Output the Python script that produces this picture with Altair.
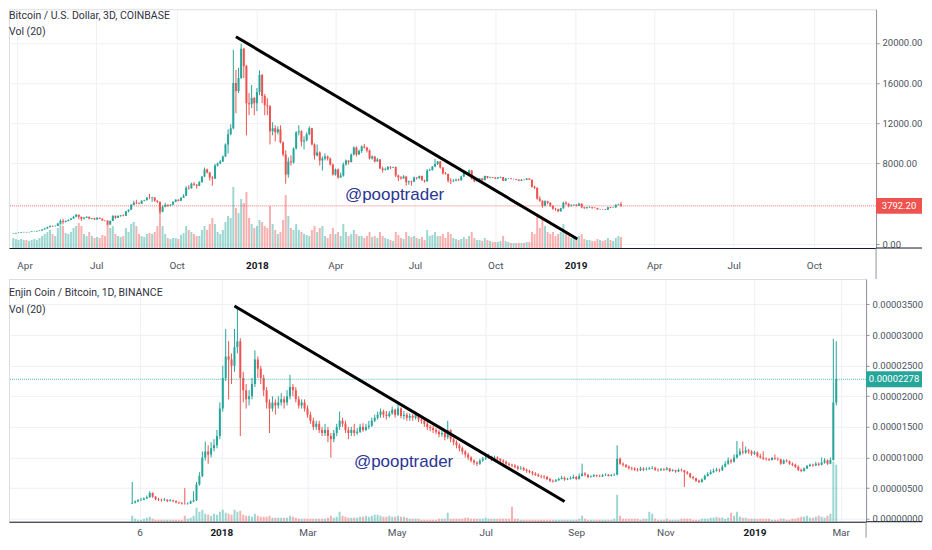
import altair as alt
import pandas as pd

# ---------------- Bitcoin / U.S. Dollar, 3D, COINBASE ----------------
btc_first_bar = "2017-03-28"
btc_bar_days = 3
btc_first_open = 1020
btc_close = [
    1040, 1100, 1130, 1180, 1200, 1180, 1200, 1240, 1250, 1300,
    1350, 1450, 1550, 1700, 1800, 1770, 1800, 2050, 2300, 2200,
    2300, 2400, 2530, 2700, 2900, 2700, 2500, 2600, 2700, 2500,
    2550, 2450, 2600, 2500, 2350, 2330, 1950, 2300, 2800, 2600,
    2800, 2850, 2800, 3250, 3400, 3900, 4100, 4050, 4000, 4300,
    4350, 4600, 4580, 4620, 4300, 4200, 3200, 3700, 3900, 3800,
    3900, 4200, 4400, 4300, 4600, 4800, 5600, 5550, 6000, 5900,
    5800, 6150, 6700, 7400, 7100, 6600, 6500, 7800, 8000, 8200,
    8700, 9900, 10900, 11500, 16000, 15200, 16500, 19400, 17700, 14000,
    13900, 14500, 14000, 15100, 16800, 14700, 13800, 13700, 11200, 11500,
    11100, 11400, 10100, 8900, 6900, 8200, 8100, 9500, 11100, 11200,
    10200, 10300, 10900, 11500, 9900, 8800, 9100, 8300, 8500, 8700,
    8500, 7900, 6900, 7400, 6600, 6800, 7900, 8300, 8150, 8900,
    9600, 8900, 9250, 9700, 9600, 9300, 8500, 8700, 8200, 8400,
    7500, 7350, 7400, 7650, 7600, 7650, 6800, 6600, 6500, 6700,
    6150, 6250, 6200, 6600, 6550, 6750, 6350, 6250, 7300, 7350,
    7700, 7950, 8200, 7600, 7000, 6950, 6300, 6250, 6300, 6400,
    6350, 6700, 7050, 7000, 7300, 6500, 6250, 6300, 6500, 6350,
    6750, 6600, 6650, 6600, 6500, 6600, 6650, 6300, 6500, 6520,
    6450, 6460, 6400, 6300, 6400, 6380, 6500, 6400, 5700, 5600,
    4500, 4300, 3800, 4250, 4100, 3800, 3500, 3450, 3250, 3550,
    4100, 4000, 3800, 3850, 3900, 3800, 4000, 3650, 3550, 3650,
    3680, 3600, 3580, 3450, 3460, 3450, 3400, 3650, 3600, 3620,
    3900, 3950, 3792.2,
]
btc_high = [
    1060, 1110, 1150, 1200, 1220, 1210, 1220, 1260, 1280, 1320,
    1360, 1470, 1580, 1720, 1850, 1840, 1860, 2100, 2450, 2480,
    2350, 2450, 2560, 2800, 2980, 2920, 2720, 2700, 2760, 2720,
    2600, 2600, 2650, 2620, 2550, 2400, 2340, 2350, 2850, 2820,
    2820, 2900, 2950, 3280, 3450, 3950, 4300, 4400, 4150, 4350,
    4400, 4700, 4980, 4700, 4650, 4350, 4200, 3850, 4100, 3950,
    3950, 4250, 4450, 4450, 4650, 4950, 5750, 5850, 6100, 6150,
    5950, 6250, 6750, 7600, 7500, 7150, 6750, 7950, 8100, 8350,
    8800, 10000, 11400, 11900, 19300, 17300, 17500, 19900, 19500, 17800,
    15000, 15800, 14600, 15500, 17250, 16900, 14900, 14500, 13800, 12100,
    11800, 11700, 11800, 10200, 9300, 8600, 8800, 9600, 11200, 11800,
    11300, 10700, 11100, 11700, 11550, 10000, 9900, 9200, 8700, 9000,
    8800, 8600, 8000, 7500, 7500, 7100, 8100, 8400, 8300, 9000,
    9700, 9700, 9400, 9800, 9950, 9650, 9400, 8800, 8750, 8550,
    8450, 7700, 7600, 7750, 7750, 7700, 7700, 6900, 6750, 6850,
    6750, 6300, 6300, 6700, 6650, 6800, 6800, 6400, 7450, 7500,
    7750, 8450, 8250, 8250, 7650, 7150, 7000, 6550, 6450, 6500,
    6500, 6800, 7100, 7100, 7400, 7350, 6550, 6400, 6550, 6550,
    6800, 6750, 6700, 6650, 6650, 6650, 6700, 6650, 6550, 6560,
    6550, 6500, 6480, 6420, 6450, 6450, 6550, 6510, 6420, 5800,
    5620, 4750, 4350, 4350, 4300, 4150, 3850, 3600, 3500, 3600,
    4200, 4250, 4050, 3950, 3950, 3950, 4100, 4050, 3700, 3700,
    3750, 3700, 3650, 3600, 3500, 3490, 3470, 3700, 3680, 3660,
    3950, 4000, 4200,
]
btc_low = [
    1000, 1030, 1080, 1120, 1160, 1150, 1170, 1190, 1220, 1240,
    1290, 1340, 1440, 1540, 1650, 1700, 1750, 1790, 2030, 1950,
    2150, 2250, 2380, 2500, 2650, 2450, 2300, 2450, 2580, 2450,
    2450, 2400, 2420, 2480, 2320, 2250, 1850, 1900, 2280, 2500,
    2580, 2700, 2750, 2780, 3150, 3380, 3850, 3950, 3950, 3980,
    4250, 4330, 4450, 4200, 4200, 4050, 3000, 3150, 3650, 3700,
    3750, 3880, 4150, 4250, 4280, 4580, 4780, 5400, 5500, 5800,
    5500, 5750, 6100, 6650, 7000, 6300, 5800, 6450, 7700, 7950,
    8150, 8650, 9000, 10800, 11400, 13000, 15000, 16400, 16500, 10800,
    12800, 13500, 12800, 13200, 14800, 14000, 12800, 12800, 9900, 10800,
    10200, 10900, 10000, 8700, 6000, 6600, 7800, 8000, 9400, 10800,
    9700, 9400, 10200, 10800, 9800, 8400, 8700, 7800, 7300, 8300,
    8300, 7800, 6800, 6800, 6500, 6600, 6700, 7800, 7900, 8100,
    8800, 8700, 8850, 9050, 9500, 9100, 8400, 8400, 8100, 8200,
    7450, 7100, 7300, 7350, 7450, 7550, 6650, 6250, 6400, 6500,
    5800, 5900, 5800, 6150, 6400, 6450, 6300, 6100, 6200, 7250,
    7300, 7650, 7850, 7500, 6900, 6900, 6100, 5950, 6150, 6250,
    6250, 6300, 6650, 6900, 6950, 6400, 6150, 6200, 6250, 6300,
    6350, 6500, 6550, 6550, 6450, 6480, 6550, 6250, 6280, 6450,
    6420, 6420, 6370, 6250, 6290, 6330, 6360, 6370, 5600, 5450,
    4400, 4200, 3600, 3750, 3950, 3700, 3400, 3300, 3150, 3200,
    3500, 3900, 3650, 3700, 3800, 3750, 3780, 3550, 3500, 3530,
    3600, 3500, 3550, 3400, 3400, 3410, 3380, 3390, 3560, 3580,
    3610, 3850, 3700,
]
btc_volume = [
    10, 9, 8, 9, 8, 8, 7, 8, 9, 8, 10,
    12, 14, 16, 18, 14, 12, 20, 25, 22, 15,
    14, 16, 20, 22, 25, 22, 14, 12, 16, 12,
    10, 11, 10, 13, 12, 24, 20, 22, 14, 12, 11,
    12, 20, 16, 24, 26, 22, 14, 12, 11, 14,
    15, 14, 16, 22, 36, 22, 14, 10, 9, 10,
    10, 9, 13, 15, 22, 18, 16, 14, 12, 12,
    18, 22, 18, 24, 30, 24, 16, 14, 18, 26,
    32, 30, 61, 40, 35, 49, 45, 56, 30, 24, 20,
    22, 28, 26, 22, 20, 42, 24, 18, 14, 16,
    28, 53, 32, 20, 18, 24, 18, 16, 14,
    13, 12, 18, 22, 16, 20, 22, 12, 10, 14, 20,
    14, 16, 12, 24, 16, 12, 14, 18, 14, 12,
    12, 10, 12, 16, 11, 12, 10, 16, 12, 10,
    9, 8, 7, 16, 13, 10, 9, 16, 12, 11,
    12, 10, 9, 11, 8, 18, 12, 13, 16, 12,
    12, 14, 10, 16, 14, 10, 9, 8, 9, 11, 9,
    12, 16, 10, 8, 8, 7, 10, 8, 7, 6,
    6, 6, 7, 12, 7, 6, 5, 5, 5, 5,
    5, 5, 6, 6, 16, 14, 32, 20, 30, 22,
    16, 14, 16, 12, 14, 16, 24, 16, 12, 10,
    10, 9, 12, 14, 9, 8, 8, 7, 7, 9,
    8, 7, 8, 10, 8, 7, 10, 12, 11,
]
btc_trend_dates = ["2017-12-08", "2019-01-03"]
btc_trend_prices = [20600, 500]
btc_last_price = 3792.20
btc_last_label = "3792.20"
btc_tick_dates = ["2017-04-01", "2017-07-01", "2017-10-01", "2018-01-01", "2018-04-01",
                  "2018-07-01", "2018-10-01", "2019-01-01", "2019-04-01", "2019-07-01",
                  "2019-10-01"]
btc_price_ticks = [0, 8000, 12000, 16000, 20000]

# ---------------- Enjin Coin / Bitcoin, BINANCE (prices in satoshi) ----------------
enj_first_bar = "2017-11-01"
enj_bar_days = 2
enj_first_open = 250
enj_close = [
    260, 280, 300, 310, 330, 350, 420, 360, 320, 310,
    300, 310, 290, 300, 290, 270, 260, 250, 245, 250,
    280, 300, 560, 700, 1000, 1100, 1050, 1150, 1200, 1350,
    1800, 2300, 2650, 2600, 2500, 2800, 2900, 2300, 2100, 1950,
    2000, 2200, 2600, 2450, 2300, 2100, 1900, 1800, 1900, 1850,
    1900, 1950, 1900, 2000, 2150, 2100, 1950, 1850, 1900, 1800,
    1700, 1600, 1500, 1550, 1450, 1400, 1450, 1350, 1300, 1400,
    1500, 1600, 1550, 1450, 1400, 1450, 1400, 1420, 1500, 1450,
    1500, 1520, 1600, 1650, 1700, 1750, 1700, 1680, 1720, 1780,
    1700, 1800, 1680, 1700, 1650, 1680, 1650, 1700, 1620, 1600,
    1550, 1500, 1480, 1450, 1420, 1380, 1400, 1330, 1450, 1300,
    1250, 1200, 1150, 1100, 1050, 1000, 950, 920, 900, 950,
    980, 1000, 1020, 960, 1000, 980, 950, 930, 900, 880,
    870, 850, 820, 830, 800, 780, 760, 740, 720, 700,
    690, 680, 650, 620, 610, 630, 650, 670, 640, 650,
    660, 680, 650, 700, 740, 720, 680, 690, 710, 700,
    690, 710, 720, 700, 710, 720, 980, 900, 880, 850,
    830, 820, 800, 790, 820, 800, 810, 820, 830, 800,
    790, 810, 800, 820, 780, 790, 770, 800, 790, 760,
    740, 680, 660, 620, 600, 640, 700, 730, 760, 780,
    800, 790, 850, 900, 950, 930, 1000, 1050, 1100, 1080,
    1120, 1100, 1060, 1080, 1020, 1000, 980, 970, 960, 990,
    980, 970, 900, 950, 940, 900, 880, 850, 800, 780,
    820, 860, 880, 870, 900, 880, 920, 950, 900, 960,
    1900, 2278,
]
enj_high = [
    600, 300, 320, 340, 350, 380, 450, 430, 370, 340,
    330, 340, 320, 320, 310, 300, 280, 270, 500, 270,
    300, 450, 600, 760, 1100, 1260, 1200, 1250, 1300, 1450,
    1900, 2500, 3100, 2900, 2700, 3100, 3460, 2950, 2400, 2200,
    2100, 2300, 2750, 2650, 2500, 2350, 2150, 1950, 2000, 1950,
    2000, 2050, 2000, 2100, 2350, 2200, 2150, 2000, 1950, 1950,
    1850, 1750, 1650, 1600, 1600, 1500, 1550, 1500, 1400, 1450,
    1550, 1750, 1650, 1600, 1500, 1500, 1550, 1480, 1550, 1560,
    1550, 1600, 1650, 1700, 1750, 1800, 1780, 1760, 1760, 1830,
    1800, 1880, 1820, 1760, 1730, 1720, 1710, 1750, 1720, 1650,
    1640, 1580, 1530, 1520, 1480, 1450, 1440, 1420, 1600, 1460,
    1320, 1280, 1230, 1180, 1120, 1080, 1020, 970, 940, 980,
    1010, 1050, 1060, 1030, 1030, 1020, 990, 970, 950, 920,
    900, 890, 870, 860, 850, 820, 800, 780, 760, 740,
    720, 710, 700, 670, 640, 650, 670, 700, 690, 670,
    690, 720, 700, 740, 900, 760, 730, 710, 730, 720,
    720, 730, 740, 730, 730, 740, 1200, 1000, 920, 890,
    870, 850, 840, 830, 850, 840, 840, 850, 860, 850,
    820, 830, 830, 850, 830, 810, 800, 820, 820, 800,
    780, 750, 700, 670, 640, 660, 720, 760, 800, 820,
    830, 820, 880, 940, 1000, 980, 1050, 1270, 1150, 1260,
    1180, 1140, 1120, 1110, 1100, 1060, 1100, 1000, 990, 1010,
    1050, 1000, 980, 970, 970, 950, 920, 900, 870, 820,
    840, 880, 900, 900, 930, 920, 1000, 990, 970, 1000,
    2940, 2900,
]
enj_low = [
    240, 250, 270, 290, 300, 320, 340, 340, 300, 290,
    280, 290, 270, 280, 270, 250, 240, 230, 230, 230,
    240, 270, 290, 540, 680, 950, 900, 1000, 1100, 1150,
    1300, 1750, 2250, 1950, 2200, 2400, 2700, 1350, 1900, 1800,
    1850, 1950, 2150, 2300, 2200, 2000, 1800, 1400, 1750, 1700,
    1800, 1850, 1800, 1850, 1950, 2000, 1900, 1800, 1800, 1750,
    1650, 1550, 1450, 1450, 1400, 1350, 1350, 1250, 1000, 1250,
    1350, 1450, 1500, 1400, 1300, 1350, 1350, 1370, 1400, 1420,
    1430, 1460, 1500, 1580, 1620, 1650, 1650, 1620, 1650, 1700,
    1650, 1680, 1640, 1620, 1600, 1600, 1600, 1620, 1580, 1550,
    1500, 1450, 1430, 1400, 1380, 1330, 1340, 1280, 1300, 1250,
    1200, 1150, 1100, 1050, 1000, 960, 920, 880, 860, 880,
    930, 960, 980, 940, 950, 950, 920, 900, 870, 850,
    840, 820, 790, 800, 780, 750, 740, 710, 700, 680,
    660, 650, 630, 600, 590, 600, 620, 640, 620, 630,
    640, 650, 630, 640, 690, 690, 660, 670, 680, 680,
    680, 680, 700, 690, 690, 700, 710, 880, 850, 830,
    800, 790, 780, 770, 780, 780, 790, 800, 810, 780,
    770, 780, 780, 790, 760, 770, 750, 760, 770, 520,
    720, 660, 640, 600, 580, 590, 630, 690, 720, 750,
    770, 760, 780, 840, 880, 900, 920, 980, 1030, 1050,
    1060, 1060, 1030, 1040, 1000, 980, 960, 950, 940, 950,
    960, 950, 880, 890, 920, 880, 860, 830, 780, 760,
    770, 810, 850, 850, 860, 860, 870, 900, 880, 890,
    950, 1850,
]
enj_volume = [
    6, 3, 2, 2, 3, 4, 5, 3, 2, 2,
    2, 2, 2, 2, 2, 2, 2, 2, 6, 3,
    4, 6, 14, 10, 12, 8, 7, 6, 8, 7,
    10, 12, 9, 8, 7, 12, 10, 11, 7, 6,
    6, 5, 8, 6, 5, 5, 5, 6, 4, 4,
    4, 4, 4, 4, 6, 5, 4, 3, 3, 3,
    3, 3, 3, 3, 3, 3, 3, 4, 6, 4,
    5, 10, 6, 5, 4, 4, 4, 4, 5, 5,
    6, 5, 6, 7, 7, 6, 5, 5, 6, 5,
    5, 6, 5, 5, 4, 3, 3, 3, 3, 2,
    2, 2, 2, 2, 2, 3, 3, 3, 9, 3,
    3, 3, 3, 3, 4, 4, 3, 3, 3, 3,
    3, 4, 3, 3, 3, 3, 3, 3, 3, 3,
    15, 3, 3, 2, 2, 2, 2, 2, 2, 2,
    2, 2, 2, 2, 2, 2, 2, 2, 2, 2,
    2, 2, 2, 3, 6, 3, 2, 2, 2, 2,
    2, 2, 2, 2, 2, 3, 27, 6, 3, 3,
    3, 3, 3, 3, 2, 3, 3, 10, 8, 3,
    2, 2, 2, 3, 2, 2, 2, 2, 3, 3,
    3, 3, 2, 2, 2, 3, 3, 3, 4, 4,
    5, 4, 4, 3, 4, 9, 6, 10, 5, 4,
    4, 3, 3, 3, 3, 3, 3, 3, 3, 2,
    2, 2, 3, 3, 2, 2, 3, 3, 4, 5,
    5, 6, 4, 4, 5, 6, 5, 4, 6, 8,
    60, 57,
]
enj_trend_dates = ["2018-01-10", "2018-08-24"]
enj_trend_sats = [3475, 282]
enj_last_price = 0.00002278
enj_last_label = "0.00002278"
enj_tick_dates = ["2017-11-06", "2018-01-01", "2018-03-01", "2018-05-01", "2018-07-01",
                  "2018-09-01", "2018-11-01", "2019-01-01", "2019-03-01"]
enj_price_ticks = [0, 0.000005, 0.00001, 0.000015, 0.00002, 0.000025, 0.00003, 0.000035]

# ---------------- styling ----------------
UP = "#26a69a"
DOWN = "#ef5350"
FONT = "Roboto"
TXT = "#2f3241"
GRID = "#edf0f5"
AXIS_LABEL = "#4c525e"
AXIS_LINE = "#8f939e"
WATERMARK = "#2a3593"
SAT = 1e-8
DAY_MS = 86400000


def ms(s):
    return int(pd.Timestamp(s, tz="UTC").value // 10**6)


def make_df(start, step, open0, closes, highs, lows, vols, unit=1.0):
    n = len(closes)
    assert len(highs) == n and len(lows) == n and len(vols) == n, (len(highs), len(lows), len(vols), n)
    t = pd.date_range(start, periods=n, freq=f"{step}D")
    opens = [open0] + closes[:-1]
    df = pd.DataFrame({
        "t": t.strftime("%Y-%m-%d"),
        "o": [v * unit for v in opens],
        "c": [v * unit for v in closes],
        "h": [v * unit for v in highs],
        "l": [v * unit for v in lows],
        "v": vols,
    })
    df["dir"] = ["up" if c >= o else "down" for o, c in zip(df["o"], df["c"])]
    return df


btc_df = make_df(btc_first_bar, btc_bar_days, btc_first_open, btc_close, btc_high, btc_low, btc_volume)
enj_df = make_df(enj_first_bar, enj_bar_days, enj_first_open, enj_close, enj_high, enj_low, enj_volume, SAT)
btc_trend = pd.DataFrame({"t": btc_trend_dates, "p": btc_trend_prices})
enj_trend = pd.DataFrame({"t": enj_trend_dates, "p": [v * SAT for v in enj_trend_sats]})

YEAR_TEST = "utcmonth(datum.value) == 0 && utcdate(datum.value) == 1"


def panel(df, trend_df, w, h, xdom, ydom, vdom, tick_dates, label_expr, xpad, yticks, yfmt,
          ylabel_size, last_price, last_label, last_color, box_x, box_x2,
          title_text, title_y, vol_y, wm_x, wm_y, axis_ext):
    one = pd.DataFrame({"k": [0]})
    xaxis = alt.Axis(
        values=[ms(d) for d in tick_dates], labelExpr=label_expr, title=None,
        grid=True, gridColor=GRID, domainColor="#131722", ticks=False, tickSize=0,
        labelPadding=xpad, labelFont=FONT, labelFontSize=10, labelFlush=8,
        labelColor={"condition": {"test": YEAR_TEST, "value": "#131722"}, "value": AXIS_LABEL},
        labelFontWeight={"condition": {"test": YEAR_TEST, "value": "bold"}, "value": "normal"},
        labelOverlap=False, tickCount=len(tick_dates) + 4,
    )
    xenc = alt.X("t:T", title=None, scale=alt.Scale(type="utc", domain=xdom), axis=xaxis)
    yaxis = alt.Axis(
        orient="right", values=yticks, format=yfmt, title=None, grid=True, gridColor=GRID,
        domainColor=AXIS_LINE, tickColor=AXIS_LINE, tickSize=3, labelPadding=3,
        labelFont=FONT, labelFontSize=ylabel_size, labelColor=AXIS_LABEL,
        labelOverlap=False, labelBound=False, tickCount=len(yticks) + 4,
    )
    yscale = alt.Scale(domain=ydom, nice=False, zero=False)
    color = alt.Color("dir:N", scale=alt.Scale(domain=["up", "down"], range=[UP, DOWN]), legend=None)

    vol = alt.Chart(df).mark_bar(width=2, opacity=0.45, clip=True).encode(
        x=xenc, y=alt.Y("v:Q", scale=alt.Scale(domain=vdom, nice=False), axis=None, title=None),
        color=color)
    wick = alt.Chart(df).mark_rule(strokeWidth=1, clip=True).encode(
        x=xenc, y=alt.Y("l:Q", scale=yscale, axis=yaxis, title=None), y2="h:Q", color=color)
    body = alt.Chart(df).mark_bar(width=2, clip=True).encode(
        x=xenc, y=alt.Y("o:Q", scale=yscale, axis=yaxis, title=None), y2="c:Q", color=color)
    pline = alt.Chart(one).mark_rule(color=last_color, strokeDash=[1, 1], strokeWidth=1, opacity=0.8).encode(
        y=alt.datum(last_price))
    trend = alt.Chart(trend_df).mark_line(color="black", strokeWidth=3, clip=True).encode(
        x=xenc, y=alt.Y("p:Q", scale=yscale, axis=yaxis, title=None))
    wm = alt.Chart(one).mark_text(font="Liberation Sans", fontSize=17, color=WATERMARK).encode(
        x=alt.value(wm_x), y=alt.value(wm_y), text=alt.value("@pooptrader"))
    box = alt.Chart(one).mark_rect(color=last_color, yOffset=-8, y2Offset=8).encode(
        x=alt.value(box_x), x2=alt.value(box_x2), y=alt.datum(last_price), y2=alt.datum(last_price))
    box_text = alt.Chart(one).mark_text(color="white", font=FONT, fontSize=ylabel_size).encode(
        x=alt.value((box_x + box_x2) / 2), y=alt.datum(last_price), text=alt.value(last_label))
    t1 = alt.Chart(one).mark_text(align="left", baseline="middle", font=FONT, fontSize=10.5, color=TXT).encode(
        x=alt.value(0), y=alt.value(title_y), text=alt.value(title_text))
    t2 = alt.Chart(one).mark_text(align="left", baseline="middle", font=FONT, fontSize=10.5, color=TXT).encode(
        x=alt.value(0), y=alt.value(vol_y), text=alt.value("Vol (20)"))
    # time-axis border continuing under the price scale, and the price-scale border
    # continuing down through the time-axis strip
    base_ext = alt.Chart(one).mark_rule(color="#131722", strokeWidth=1).encode(
        x=alt.value(w), x2=alt.value(box_x2), y=alt.value(h))
    side_ext = alt.Chart(one).mark_rule(color=AXIS_LINE, strokeWidth=1).encode(
        x=alt.value(w), y=alt.value(h), y2=alt.value(h + axis_ext))
    price = alt.layer(wick, body, pline, trend, wm, box, box_text, t1, t2, base_ext, side_ext)
    return alt.layer(vol, price).resolve_scale(y="independent").properties(width=w, height=h)


# ---- layout (page pixels of the reference converted to scale domains) ----
TOP_W, TOP_H = 868, 239
BOT_W, BOT_H = 858, 243
GAP = 31
jan18 = ms("2018-01-01")
top_px_day, top_jan_x = 0.8843, 246
bot_px_day, bot_jan_x = 1.4795, 210
top_xdom = [jan18 - top_jan_x / top_px_day * DAY_MS, jan18 + (TOP_W - top_jan_x) / top_px_day * DAY_MS]
bot_xdom = [jan18 - bot_jan_x / bot_px_day * DAY_MS, jan18 + (BOT_W - bot_jan_x) / bot_px_day * DAY_MS]

top = panel(
    btc_df, btc_trend, TOP_W, TOP_H, top_xdom, [-397, 23326], [0, TOP_H], btc_tick_dates,
    "utcmonth(datum.value) == 0 ? utcFormat(datum.value, '%Y') : utcFormat(datum.value, '%b')",
    12, btc_price_ticks, ".2f", 9.5, btc_last_price, btc_last_label, DOWN, TOP_W, TOP_W + 46,
    "Bitcoin / U.S. Dollar, 3D, COINBASE", 7, 23, 386, 186, GAP,
)
bottom = panel(
    enj_df, enj_trend, BOT_W, BOT_H, bot_xdom, [-4.9e-7, 3.916e-5], [0, BOT_H], enj_tick_dates,
    "utcdate(datum.value) != 1 ? utcFormat(datum.value, '%-d') : "
    "(utcmonth(datum.value) == 0 ? utcFormat(datum.value, '%Y') : utcFormat(datum.value, '%b'))",
    6, enj_price_ticks, ".8f", 9.5, enj_last_price, enj_last_label, UP, BOT_W, BOT_W + 56,
    "Enjin Coin / Bitcoin, 1D, BINANCE", 14, 31, 395, 183, 16,
)

chart = alt.vconcat(top, bottom, spacing=GAP).properties(
    bounds="flush", padding=0, background="white"
).configure_view(stroke=None).configure(font=FONT)

chart.save("out.html", embed_options={"renderer": "svg", "actions": False})
